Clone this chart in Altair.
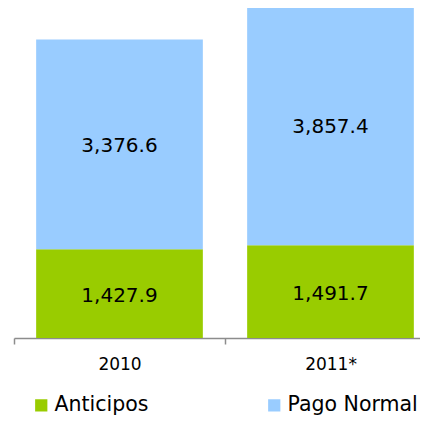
import altair as alt
import pandas as pd

years = ["2010", "2011*"]
anticipos = [1427.9, 1491.7]
pago_normal = [3376.6, 3857.4]
series = ["Anticipos", "Pago Normal"]
colors = ["#99CC00", "#99CCFF"]

rows = []
for i, y in enumerate(years):
    rows.append({"year": y, "serie": series[0], "value": anticipos[i], "ord": 0})
    rows.append({"year": y, "serie": series[1], "value": pago_normal[i], "ord": 1})
df = pd.DataFrame(rows)

FONT = "DejaVu Sans"

x_scale = alt.Scale(domain=years, range=[0, 422], paddingInner=0, paddingOuter=0)

x_enc = alt.X(
    "year:N",
    sort=years,
    title=None,
    scale=x_scale,
    axis=alt.Axis(
        labelAngle=0,
        labelFont=FONT,
        labelFontSize=17,
        labelColor="#000000",
        labelPadding=12,
        domainColor="#8c8c8c",
        domainWidth=1.5,
        tickColor="#8c8c8c",
        tickWidth=1.5,
        tickSize=6,
        tickBand="extent",
        grid=False,
    ),
)

y_scale = alt.Scale(domain=[0, 5311], nice=False, zero=True)

bars = alt.Chart(df).mark_bar(width=alt.RelativeBandSize(0.79)).encode(
    x=x_enc,
    y=alt.Y("value:Q", stack="zero", scale=y_scale, axis=None),
    color=alt.Color(
        "serie:N",
        scale=alt.Scale(domain=series, range=colors),
        legend=alt.Legend(
            title=None,
            orient="none",
            legendX=17,
            legendY=387,
            direction="horizontal",
            symbolType="square",
            symbolSize=150,
            symbolStrokeWidth=0,
            labelFont=FONT,
            labelFontSize=20.5,
            labelColor="#000000",
            labelOffset=3,
            columnPadding=115,
            padding=0,
            labelLimit=300,
        ),
    ),
    order=alt.Order("ord:Q", sort="ascending"),
)

labels = (
    alt.Chart(df)
    .transform_stack(
        stack="value",
        groupby=["year"],
        as_=["v0", "v1"],
        sort=[alt.SortField("ord", order="ascending")],
    )
    .transform_calculate(mid="(datum.v0 + datum.v1) / 2")
    .mark_text(font=FONT, fontSize=20, color="#000000", baseline="middle", align="center", dy=2)
    .encode(
        x=alt.X("year:N", sort=years, scale=x_scale),
        y=alt.Y("mid:Q", scale=y_scale),
        text=alt.Text("value:Q", format=",.1f"),
    )
)

chart = (
    alt.layer(bars, labels)
    .properties(
        width=406,
        height=330,
        autosize=alt.AutoSizeParams(type="none"),
        padding={"left": 6, "top": 0, "right": 0, "bottom": 89},
    )
    .configure_view(stroke=None)
)

chart.save("out.html", embed_options={"renderer": "svg", "actions": False})
